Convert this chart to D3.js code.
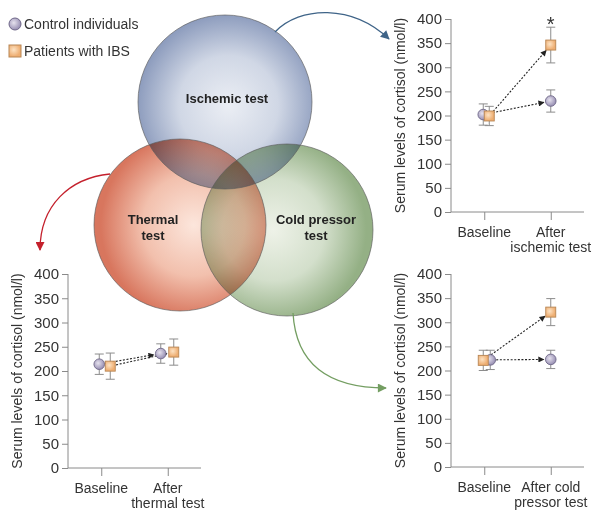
<!DOCTYPE html>
<html><head><meta charset="utf-8">
<script src="https://cdn.jsdelivr.net/npm/d3@7"></script>
<style>
body{margin:0;background:#fff;}
svg{display:block;font-family:"Liberation Sans",Arial,sans-serif;}
</style></head>
<body>
<svg id="c" width="602" height="517"></svg>
<script>
// ---------- data ----------
const categories = ["Baseline", "After"];
const yTicks = [0, 50, 100, 150, 200, 250, 300, 350, 400];
const legendLabels = ["Control individuals", "Patients with IBS"];
const vennLabels = [["Ischemic test"], ["Thermal", "test"], ["Cold pressor", "test"]];
const axisTitle = "Serum levels of cortisol (nmol/l)";

const ischemicTickLabels = [["Baseline"], ["After", "ischemic test"]];
const ischemicControl = [202, 230];
const ischemicControlErr = [22, 23];
const ischemicIBS = [199, 346];
const ischemicIBSErr = [20, 37];

const thermalTickLabels = [["Baseline"], ["After", "thermal test"]];
const thermalControl = [214, 236];
const thermalControlErr = [21, 20];
const thermalIBS = [210, 239];
const thermalIBSErr = [27, 27];

const coldTickLabels = [["Baseline"], ["After cold", "pressor test"]];
const coldControl = [222, 223];
const coldControlErr = [20, 19];
const coldIBS = [221, 321];
const coldIBSErr = [21, 28];

// ---------- layout ----------
const svg = d3.select("#c");
const defs = svg.append("defs");

function radial(id, stops, cx, cy, r) {
  const g = defs.append("radialGradient").attr("id", id)
    .attr("cx", cx || "50%").attr("cy", cy || "50%").attr("r", r || "50%");
  stops.forEach(([o, c]) => g.append("stop").attr("offset", o).attr("stop-color", c));
}
radial("gIsch", [["0%", "#ebeef4"], ["55%", "#d0d7e5"], ["100%", "#8e9dbe"]], "52%", "52%", "52%");
radial("gTherm", [["0%", "#fce6dc"], ["55%", "#f2c0ad"], ["100%", "#d8765e"]], "58%", "50%", "54%");
radial("gCold", [["0%", "#eef2e8"], ["55%", "#d3dfcb"], ["100%", "#94b085"]], "42%", "50%", "54%");
radial("gCirc", [["0%", "#e6e2ee"], ["100%", "#9e96b8"]], "40%", "40%", "55%");
radial("gSq", [["0%", "#fde3c4"], ["100%", "#eeae72"]], "40%", "40%", "55%");

function arrowMarker(id, color, w, h) {
  defs.append("marker").attr("id", id).attr("viewBox", "0 0 10 10")
    .attr("refX", 9).attr("refY", 5).attr("markerWidth", w).attr("markerHeight", h)
    .attr("markerUnits", "userSpaceOnUse").attr("orient", "auto")
    .append("path").attr("d", "M0,0 L10,5 L0,10 Z").attr("fill", color);
}
arrowMarker("aBlue", "#3f6488", 11, 9);
arrowMarker("aRed", "#c4202c", 11, 9);
arrowMarker("aGreen", "#749e62", 12, 9);
arrowMarker("aDot", "#222", 8, 6);

// ---------- Venn ----------
const venn = [
  {cx: 225, cy: 102, r: 87, fill: "url(#gIsch)"},
  {cx: 180, cy: 225, r: 86, fill: "url(#gTherm)"},
  {cx: 287, cy: 230, r: 86, fill: "url(#gCold)"}
];
const vg = svg.append("g");
vg.selectAll("circle.v").data(venn).join("circle")
  .attr("cx", d => d.cx).attr("cy", d => d.cy).attr("r", d => d.r)
  .attr("fill", d => d.fill).style("mix-blend-mode", "multiply");
vg.selectAll("circle.o").data(venn).join("circle")
  .attr("cx", d => d.cx).attr("cy", d => d.cy).attr("r", d => d.r)
  .attr("fill", "none").attr("stroke", "#5a5a5a").attr("stroke-width", 0.8).attr("stroke-opacity", 0.8);
const vLabelPos = [[227, 103], [153, 232], [316, 232]];
vennLabels.forEach((lines, i) => {
  const t = vg.append("text").attr("text-anchor", "middle").attr("font-size", 13)
    .attr("font-weight", "bold").attr("fill", "#222");
  lines.forEach((l, j) => {
    t.append("tspan").attr("x", vLabelPos[i][0])
      .attr("y", vLabelPos[i][1] - (lines.length - 1) * 8 + j * 16).text(l);
  });
});

// connector arrows
svg.append("path").attr("d", "M275,32 C300,6 352,4 389,39")
  .attr("fill", "none").attr("stroke", "#3f6488").attr("stroke-width", 1.3).attr("marker-end", "url(#aBlue)");
svg.append("path").attr("d", "M110,174 C70,178 40,205 40,250")
  .attr("fill", "none").attr("stroke", "#c4202c").attr("stroke-width", 1.3).attr("marker-end", "url(#aRed)");
svg.append("path").attr("d", "M293,313 C296,365 330,388 386,388")
  .attr("fill", "none").attr("stroke", "#749e62").attr("stroke-width", 1.3).attr("marker-end", "url(#aGreen)");

// ---------- legend ----------
const lg = svg.append("g");
lg.append("circle").attr("cx", 15).attr("cy", 24).attr("r", 6)
  .attr("fill", "url(#gCirc)").attr("stroke", "#6e6688").attr("stroke-width", 1);
lg.append("rect").attr("x", 9).attr("y", 45).attr("width", 12).attr("height", 12)
  .attr("fill", "url(#gSq)").attr("stroke", "#b88654").attr("stroke-width", 1);
lg.selectAll("text").data(legendLabels).join("text")
  .attr("x", 24).attr("y", (d, i) => 29 + i * 27).attr("font-size", 14).attr("fill", "#333").text(d => d);

// ---------- small charts ----------
function chart(cfg) {
  const g = svg.append("g");
  const y = d3.scaleLinear().domain([0, 400]).range([cfg.y0, cfg.y1]);
  const x = d3.scalePoint().domain(categories).range([cfg.x0, cfg.x0 + 133]).padding(0.5);
  const axisColor = "#8a8a8a";

  // y axis
  const ya = g.append("g").attr("transform", `translate(${cfg.x0},0)`)
    .call(d3.axisLeft(y).tickValues(yTicks).tickSize(6).tickPadding(3).tickFormat(d3.format("d")));
  ya.select(".domain").attr("stroke", axisColor).attr("d", `M0,${cfg.y1}V${cfg.y0}`);
  ya.selectAll(".tick line").attr("stroke", axisColor);
  ya.selectAll(".tick text").attr("font-size", 15).attr("fill", "#333")
    .attr("font-family", "'Liberation Sans',Arial,sans-serif");

  // x axis
  const xa = g.append("g").attr("transform", `translate(0,${cfg.y0})`)
    .call(d3.axisBottom(x).tickSize(8).tickFormat(""));
  xa.select(".domain").attr("stroke", axisColor).attr("d", `M${cfg.x0},0H${cfg.x0 + 133}`);
  xa.selectAll(".tick line").attr("stroke", axisColor);
  const tl = g.append("g");
  categories.forEach((c, i) => {
    cfg.tickLabels[i].forEach((l, j) => {
      tl.append("text").attr("text-anchor", "middle").attr("font-size", 14).attr("fill", "#333")
        .attr("x", x(c)).attr("y", cfg.y0 + 25 + j * 15).text(l);
    });
  });

  // axis title
  g.append("text").attr("transform", `translate(${cfg.x0 - 46},${(cfg.y0 + cfg.y1) / 2}) rotate(-90)`)
    .attr("text-anchor", "middle").attr("font-size", 14).attr("fill", "#333").text(axisTitle);

  const series = [
    {v: cfg.control, e: cfg.controlErr, dx: cfg.dxControl, type: "circle"},
    {v: cfg.ibs, e: cfg.ibsErr, dx: cfg.dxIBS, type: "square"}
  ];
  // dotted arrows
  series.forEach(s => {
    const xA = x(categories[0]) + s.dx[0], yA = y(s.v[0]);
    const xB = x(categories[1]) + s.dx[1], yB = y(s.v[1]);
    const len = Math.hypot(xB - xA, yB - yA);
    const ux = (xB - xA) / len, uy = (yB - yA) / len;
    g.append("line").attr("x1", xA + ux * 6).attr("y1", yA + uy * 6)
      .attr("x2", xB - ux * 7).attr("y2", yB - uy * 7)
      .attr("stroke", "#222").attr("stroke-width", 1.1).attr("stroke-dasharray", "2,1.6")
      .attr("marker-end", "url(#aDot)");
  });
  // error bars
  series.forEach(s => {
    categories.forEach((c, i) => {
      const cx = x(c) + s.dx[i];
      const top = y(s.v[i] + s.e[i]), bot = y(s.v[i] - s.e[i]);
      g.append("path").attr("d", `M${cx},${top}V${bot}M${cx - 4.5},${top}H${cx + 4.5}M${cx - 4.5},${bot}H${cx + 4.5}`)
        .attr("stroke", "#8c8c8c").attr("stroke-width", 1).attr("fill", "none");
    });
  });
  // markers
  series.forEach(s => {
    categories.forEach((c, i) => {
      const cx = x(c) + s.dx[i], cy = y(s.v[i]);
      if (s.type === "circle") {
        g.append("circle").attr("cx", cx).attr("cy", cy).attr("r", 5.3)
          .attr("fill", "url(#gCirc)").attr("stroke", "#6e6688").attr("stroke-width", 0.9);
      } else {
        g.append("rect").attr("x", cx - 5).attr("y", cy - 5).attr("width", 10).attr("height", 10)
          .attr("fill", "url(#gSq)").attr("stroke", "#b88654").attr("stroke-width", 0.9);
      }
    });
  });
  if (cfg.star) {
    g.append("text").attr("x", x(categories[cfg.star.i]) ).attr("y", y(cfg.star.v))
      .attr("text-anchor", "middle").attr("font-size", 20).attr("fill", "#333").text("*");
  }
}

chart({x0: 451, y0: 212, y1: 19, tickLabels: ischemicTickLabels,
  control: ischemicControl, controlErr: ischemicControlErr, ibs: ischemicIBS, ibsErr: ischemicIBSErr,
  dxControl: [-1, 0], dxIBS: [5, 0], star: {i: 1, v: 376}});
chart({x0: 68, y0: 468, y1: 274, tickLabels: thermalTickLabels,
  control: thermalControl, controlErr: thermalControlErr, ibs: thermalIBS, ibsErr: thermalIBSErr,
  dxControl: [-2, -7], dxIBS: [9, 6]});
chart({x0: 451, y0: 467, y1: 274, tickLabels: coldTickLabels,
  control: coldControl, controlErr: coldControlErr, ibs: coldIBS, ibsErr: coldIBSErr,
  dxControl: [6, 0], dxIBS: [-1, 0]});
</script>
</body></html>
